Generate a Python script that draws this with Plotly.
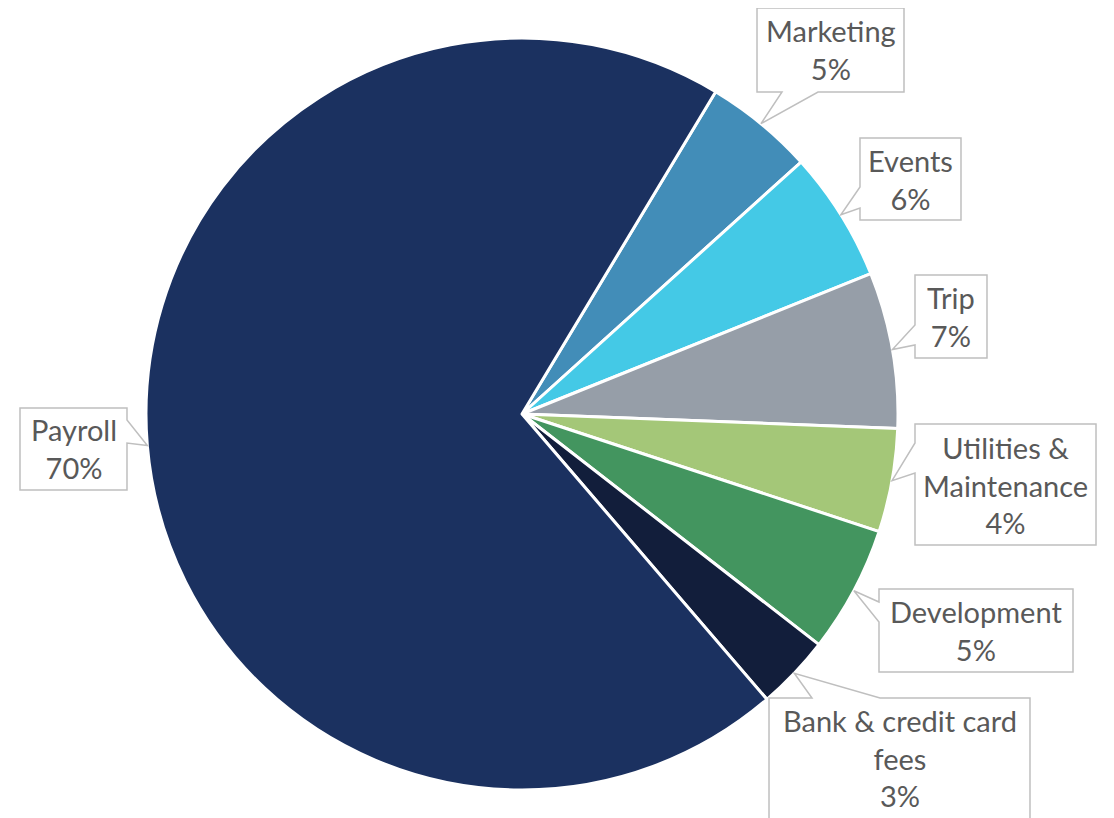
import plotly.graph_objects as go
import math

# ---- data ----
categories = ["Marketing", "Events", "Trip", "Utilities & Maintenance",
              "Development", "Bank & credit card fees", "Payroll"]
display_labels = ["Marketing", "Events", "Trip", "Utilities &<br>Maintenance",
                  "Development", "Bank & credit card<br>fees", "Payroll"]
values = [4.7, 5.6, 6.7, 4.45, 5.45, 3.2, 69.9]
colors = ["#428DB8", "#44C9E6", "#969EA8", "#A4C778", "#43955F", "#121E3B", "#1B3160"]

# ---- layout constants (pixels, in the 1114x818 window) ----
OFF = 8  # page body margin
W, H = 1114 - OFF, 818 - OFF
CX, CY, R = 522, 414, 376
ROTATION = 31

# callout boxes: (x0, y0, x1, y1), side of pointer, base (a, b) along that side
boxes = [
    ((757, 8, 904, 92), "bottom", (782, 818)),
    ((860, 138, 961, 220), "left", (187, 208)),
    ((915, 275, 987, 358), "left", (325, 345)),
    ((915, 424, 1096, 545), "left", (443, 473)),
    ((879, 589, 1073, 672), "left", (602, 622)),
    ((769, 698, 1030, 826), "top", (812, 880)),
    ((20, 408, 127, 490), "right", (420, 443)),
]

def px(x):
    return (x - OFF) / W

def py(y):
    return 1 - (y - OFF) / H

fig = go.Figure()
fig.add_trace(go.Pie(
    labels=categories, values=values, sort=False, direction="clockwise",
    rotation=ROTATION, textinfo="none", hoverinfo="label+percent",
    marker=dict(colors=colors, line=dict(color="white", width=3)),
    domain=dict(x=[px(CX - R), px(CX + R)], y=[py(CY + R), py(CY - R)]),
    showlegend=False,
))

total = sum(values)
cum = 0.0
shapes = []
annotations = []
for lab, v, (box, side, base) in zip(display_labels, values, boxes):
    mid = ROTATION + 360 * (cum + v / 2) / total
    cum += v
    th = math.radians(mid)
    tx = CX + R * math.sin(th)
    ty = CY - R * math.cos(th)
    x0, y0, x1, y1 = box
    a, b = base
    if side == "bottom":
        pts = [(x0, y0), (x1, y0), (x1, y1), (b, y1), (tx, ty), (a, y1), (x0, y1)]
    elif side == "top":
        pts = [(x0, y0), (a, y0), (tx, ty), (b, y0), (x1, y0), (x1, y1), (x0, y1)]
    elif side == "left":
        pts = [(x0, y0), (x1, y0), (x1, y1), (x0, y1), (x0, b), (tx, ty), (x0, a)]
    else:  # right
        pts = [(x0, y0), (x1, y0), (x1, a), (tx, ty), (x1, b), (x1, y1), (x0, y1)]
    path = "M " + " L ".join(f"{px(x):.5f},{py(y):.5f}" for x, y in pts) + " Z"
    shapes.append(dict(type="path", xref="paper", yref="paper", path=path,
                       fillcolor="white", line=dict(color="#BFBFBF", width=1.5),
                       layer="above"))
    pct = round(100 * v / total)
    annotations.append(dict(
        x=px((x0 + x1) / 2), y=py((y0 + min(y1, 818)) / 2), xref="paper", yref="paper",
        text=f"{lab}<br>{pct}%", showarrow=False, xanchor="center", yanchor="middle",
        font=dict(family="Lato", size=29, color="#595959"),
    ))

fig.update_layout(
    width=W, height=H, margin=dict(l=0, r=0, t=0, b=0),
    paper_bgcolor="white", plot_bgcolor="white",
    shapes=shapes, annotations=annotations,
)
fig.write_html("out.html")
